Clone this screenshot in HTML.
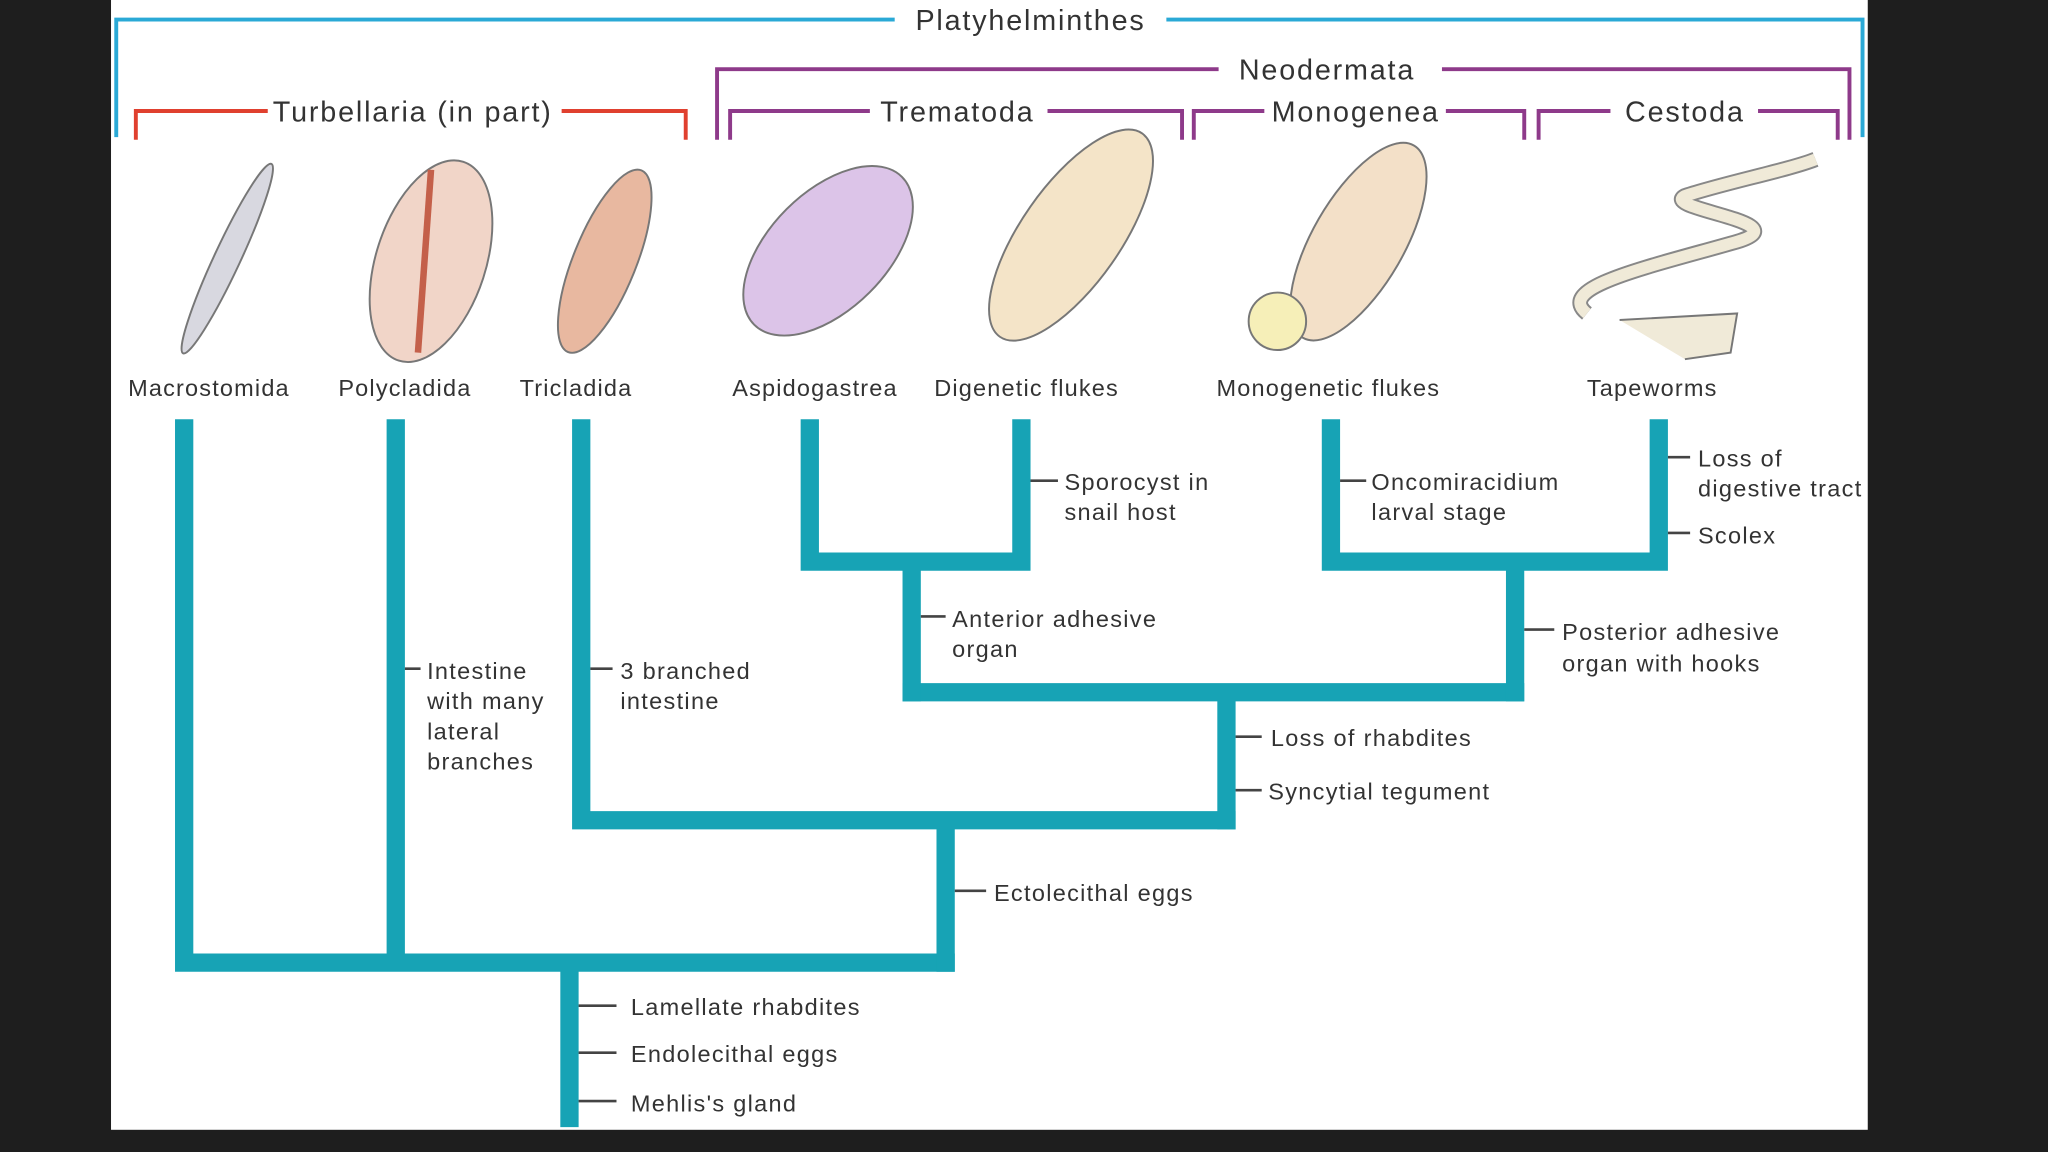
<!DOCTYPE html>
<html><head><meta charset="utf-8"><style>
html,body{margin:0;padding:0;background:#1e1e1e;width:2048px;height:1152px;overflow:hidden}
svg{display:block}
text{font-family:"Liberation Sans",sans-serif;fill:#333}
</style></head><body>
<svg width="2048" height="1152" viewBox="0 0 1568 882" xmlns="http://www.w3.org/2000/svg">
<rect x="0" y="0" width="1568" height="882" fill="#1e1e1e"/>
<rect x="85" y="0" width="1345" height="865" fill="#fff"/>
<!-- brackets -->
<g fill="none" stroke-width="3">
<path d="M89,105 V15 H685 M893,15 H1426 V105" stroke="#2aa9d6"/>
<path d="M549,107 V53 H933 M1104,53 H1416 V107" stroke="#8e3a8a"/>
<path d="M104,107 V85 H205 M430,85 H525 V107" stroke="#e0402f"/>
<path d="M559,107 V85 H666 M802,85 H905 V107" stroke="#8e3a8a"/>
<path d="M914,107 V85 H968 M1107,85 H1167 V107" stroke="#8e3a8a"/>
<path d="M1178,107 V85 H1233 M1346,85 H1407 V107" stroke="#8e3a8a"/>
</g>
<g font-size="22" text-anchor="middle" style="letter-spacing:1.4px">
<text x="789" y="23">Platyhelminthes</text>
<text x="1016" y="61">Neodermata</text>
<text x="316" y="93">Turbellaria (in part)</text>
<text x="733" y="93">Trematoda</text>
<text x="1038" y="93">Monogenea</text>
<text x="1290" y="93">Cestoda</text>
</g>
<!-- organisms -->
<g stroke="#777" stroke-width="1.5">
<ellipse cx="174" cy="198" rx="10" ry="80" transform="rotate(25 174 198)" fill="#d8d8e0"/>
<ellipse cx="330" cy="200" rx="42" ry="80" transform="rotate(18 330 200)" fill="#f1d5c8"/>
<path d="M330,130 L320,270" stroke="#c4604a" stroke-width="5"/>
<ellipse cx="463" cy="200" rx="24" ry="75" transform="rotate(22 463 200)" fill="#e8b8a0"/>
<ellipse cx="634" cy="192" rx="45" ry="80" transform="rotate(45 634 192)" fill="#dcc4e8"/>
<ellipse cx="820" cy="180" rx="38" ry="95" transform="rotate(35 820 180)" fill="#f4e4c8"/>
<ellipse cx="1040" cy="185" rx="35" ry="85" transform="rotate(30 1040 185)" fill="#f3e0c8"/>
<circle cx="978" cy="246" r="22" fill="#f6efb8"/>
<path d="M1215,240 C1190,220 1260,205 1330,185 C1380,170 1270,160 1290,150 C1320,140 1370,130 1390,122" fill="none" stroke="#888" stroke-width="12"/>
<path d="M1215,240 C1190,220 1260,205 1330,185 C1380,170 1270,160 1290,150 C1320,140 1370,130 1390,122" fill="none" stroke="#f0ead8" stroke-width="9"/>
<path d="M1240,245 L1330,240 L1325,270 L1290,275" fill="#f0ead8"/>
</g>
<g font-size="18" text-anchor="middle" style="letter-spacing:0.9px">
<text x="160" y="303">Macrostomida</text>
<text x="310" y="303">Polycladida</text>
<text x="441" y="303">Tricladida</text>
<text x="624" y="303">Aspidogastrea</text>
<text x="786" y="303">Digenetic flukes</text>
<text x="1017" y="303">Monogenetic flukes</text>
<text x="1265" y="303">Tapeworms</text>
</g>
<!-- tree -->
<g fill="none" stroke="#17a3b5" stroke-width="14" stroke-linecap="square">
<path d="M141,328 V737 M303,328 V737 M141,737 H724 M436,737 V856"/>
<path d="M445,328 V628 H939 M724,628 V737"/>
<path d="M939,628 V530 M698,530 H1160"/>
<path d="M620,328 V430 H782 V328 M698,430 V530"/>
<path d="M1019,328 V430 H1270 V328 M1160,430 V530"/>
</g>
<!-- ticks -->
<g stroke="#444" stroke-width="2">
<path d="M443,770 H472 M443,806 H472 M443,843 H472"/>
<path d="M731,682 H755 M946,564 H966 M946,605 H966"/>
<path d="M705,472 H724 M1167,482 H1190 M789,368 H810 M1026,368 H1046"/>
<path d="M1277,350 H1294 M1277,408 H1294 M310,512 H322 M452,512 H469"/>
</g>
<g font-size="18" style="letter-spacing:1px">
<text x="483" y="777">Lamellate rhabdites</text>
<text x="483" y="813">Endolecithal eggs</text>
<text x="483" y="851">Mehlis's gland</text>
<text x="761" y="690">Ectolecithal eggs</text>
<text x="973" y="571">Loss of rhabdites</text>
<text x="971" y="612">Syncytial tegument</text>
<text x="729" y="480">Anterior adhesive</text>
<text x="729" y="503">organ</text>
<text x="1196" y="490">Posterior adhesive</text>
<text x="1196" y="514">organ with hooks</text>
<text x="815" y="375">Sporocyst in</text>
<text x="815" y="398">snail host</text>
<text x="1050" y="375">Oncomiracidium</text>
<text x="1050" y="398">larval stage</text>
<text x="1300" y="357">Loss of</text>
<text x="1300" y="380">digestive tract</text>
<text x="1300" y="416">Scolex</text>
<text x="327" y="520">Intestine</text>
<text x="327" y="543">with many</text>
<text x="327" y="566">lateral</text>
<text x="327" y="589">branches</text>
<text x="475" y="520">3 branched</text>
<text x="475" y="543">intestine</text>
</g>
</svg>
</body></html>
